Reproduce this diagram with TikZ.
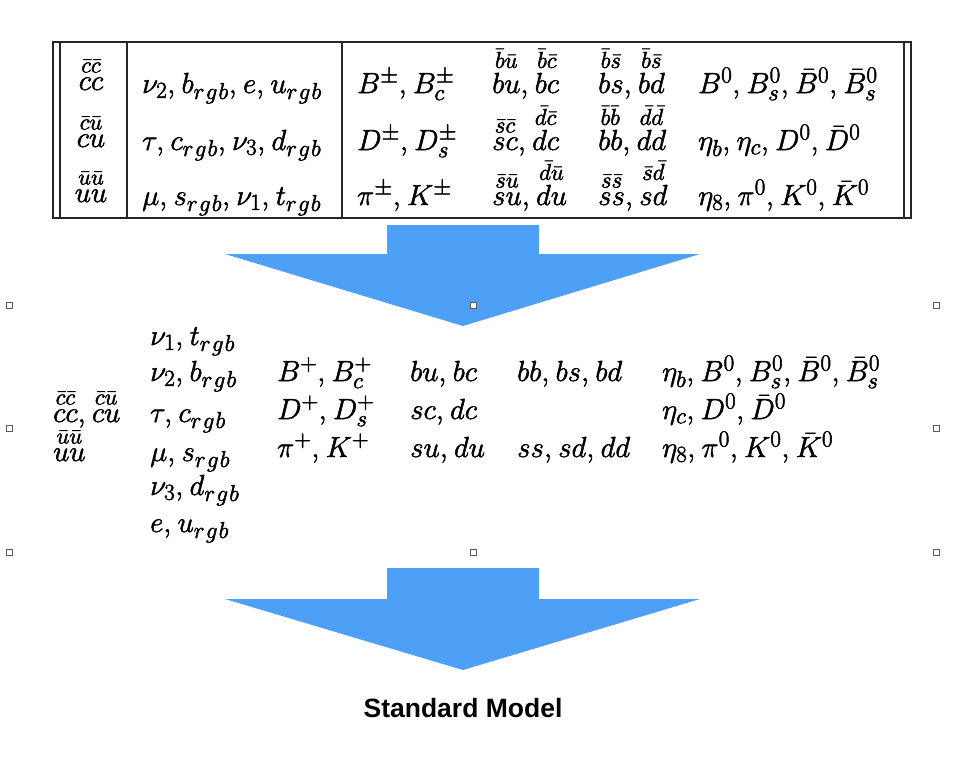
\RequirePackage{fix-cm}
\documentclass[tikz,border=0pt]{standalone}
\usepackage{amsmath}
\usepackage{fontspec}
\newfontfamily\smfont{Liberation Sans}
\DeclareMathSizes{29}{29}{23}{16}
\thinmuskip=4mu
\definecolor{arrowblue}{RGB}{77,160,245}
\definecolor{handlegray}{RGB}{90,90,90}
\newcommand{\rgbsub}{r\mkern1mu g\mkern1mu b}
\tikzset{
  heavy/.style={execute at begin node={\special{pdf:code 2 Tr 0.5 w}}, execute at end node={\special{pdf:code 0 Tr}}},
  mt/.style={anchor=base west, inner sep=0pt, font=\fontsize{29}{34}\selectfont, heavy},
  mc/.style={anchor=base, inner sep=0pt, font=\fontsize{29}{34}\selectfont, heavy},
  tbl/.style={line width=1.2pt, draw=black!85},
  bigarrow/.style={fill=arrowblue, draw=none},
  handle/.style={draw=handlegray, fill=white, line width=0.7pt, minimum size=6pt, inner sep=0pt, shape=rectangle},
}
\begin{document}
\begin{tikzpicture}[x=1pt,y=-1pt]
\useasboundingbox (0,0) rectangle (980,758);
% ---- table ----
\draw[tbl] (53,42) rectangle (911,218);
\draw[tbl] (60,42) -- (60,218);
\draw[tbl] (904,42) -- (904,218);
\draw[tbl] (127,42) -- (127,218);
\draw[tbl] (342,42) -- (342,218);
% column 1
\node[mc] (t11) at (91,90) {$\overset{\bar c\bar c}{cc}$};
\node[mc] (t21) at (91,147) {$\overset{\bar c\bar u}{cu}$};
\node[mc] (t31) at (91,202) {$\overset{\bar u\bar u}{uu}$};
% column 2
\node[mt] (t12) at (142,93) {$\nu_2, b_{\rgbsub}, e, u_{\rgbsub}$};
\node[mt] (t22) at (142,150) {$\tau, c_{\rgbsub}, \nu_3, d_{\rgbsub}$};
\node[mt] (t32) at (142,205) {$\mu, s_{\rgbsub}, \nu_1, t_{\rgbsub}$};
% column 3
\node[mt] (t13) at (357,93) {$B^\pm, B_c^\pm$};
\node[mt] (t23) at (357,150) {$D^\pm, D_s^\pm$};
\node[mt] (t33) at (357,205) {$\pi^\pm, K^\pm$};
% column 4
\node[mt] (t14) at (492,93) {$\overset{\bar b\bar u}{bu}, \overset{\bar b\bar c}{bc}$};
\node[mt] (t24) at (492,150) {$\overset{\bar s\bar c}{sc}, \overset{\bar d\bar c}{dc}$};
\node[mt] (t34) at (492,205) {$\overset{\bar s\bar u}{su}, \overset{\bar d\bar u}{du}$};
% column 5
\node[mt] (t15) at (598,93) {$\overset{\bar b\bar s}{bs}, \overset{\bar b\bar s}{bd}$};
\node[mt] (t25) at (598,150) {$\overset{\bar b\bar b}{bb}, \overset{\bar d\bar d}{dd}$};
\node[mt] (t35) at (598,205) {$\overset{\bar s\bar s}{ss}, \overset{\bar s\bar d}{sd}$};
% column 6
\node[mt] (t16) at (698,93) {$B^0, B^0_s, \bar B^0, \bar B^0_s$};
\node[mt] (t26) at (698,150) {$\eta_b, \eta_c, D^0, \bar D^0$};
\node[mt] (t36) at (698,205) {$\eta_8, \pi^0, K^0, \bar K^0$};
% ---- arrow 1 ----
\fill[bigarrow] (387,225) -- (539,225) -- (539,254) -- (700,254) -- (463,326) -- (225,254) -- (387,254) -- cycle;
% ---- middle block ----
\node[mt] (m1) at (53,422) {$\overset{\bar c\bar c}{cc}, \overset{\bar c\bar u}{cu}$};
\node[mt] (m2) at (53,461) {$\overset{\bar u\bar u}{uu}$};
\node[mt] (l1) at (150,345) {$\nu_1, t_{\rgbsub}$};
\node[mt] (l2) at (150,381) {$\nu_2, b_{\rgbsub}$};
\node[mt] (l3) at (150,422) {$\tau, c_{\rgbsub}$};
\node[mt] (l4) at (150,461) {$\mu, s_{\rgbsub}$};
\node[mt] (l5) at (150,495) {$\nu_3, d_{\rgbsub}$};
\node[mt] (l6) at (150,532) {$e, u_{\rgbsub}$};
\node[mt] (c1) at (277,381) {$B^+, B_c^+$};
\node[mt] (c2) at (277,419) {$D^+, D_s^+$};
\node[mt] (c3) at (277,457) {$\pi^+, K^+$};
\node[mt] (d1) at (410,381) {$bu, bc$};
\node[mt] (d2) at (410,419) {$sc, dc$};
\node[mt] (d3) at (410,457) {$su, du$};
\node[mt] (e1) at (517,381) {$bb, bs, bd$};
\node[mt] (e3) at (517,457) {$ss, sd, dd$};
\node[mt] (f1) at (662,381) {$\eta_b, B^0, B^0_s, \bar B^0, \bar B^0_s$};
\node[mt] (f2) at (662,419) {$\eta_c, D^0, \bar D^0$};
\node[mt] (f3) at (662,457) {$\eta_8, \pi^0, K^0, \bar K^0$};
% selection handles
\node[handle] (h1) at (9,305) {};
\node[handle] (h2) at (473,305) {};
\node[handle] (h3) at (936,305) {};
\node[handle] (h4) at (9,428) {};
\node[handle] (h5) at (936,428) {};
\node[handle] (h6) at (9,552) {};
\node[handle] (h7) at (473,552) {};
\node[handle] (h8) at (936,552) {};
% ---- arrow 2 ----
\fill[bigarrow] (387,568) -- (539,568) -- (539,599) -- (700,599) -- (463,670) -- (225,599) -- (387,599) -- cycle;
\node[inner sep=0pt, font=\smfont\bfseries\fontsize{26.5}{30}\selectfont] (sm) at (463,708) {Standard Model};
\end{tikzpicture}
\end{document}
